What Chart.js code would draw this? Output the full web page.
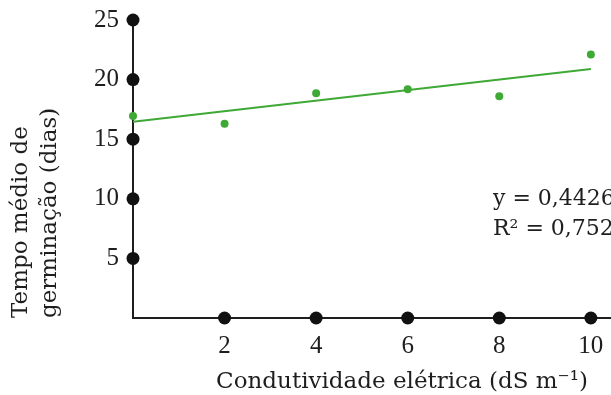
<!DOCTYPE html>
<html>
<head>
<meta charset="utf-8">
<script src="https://cdn.jsdelivr.net/npm/chart.js@4"></script>
<style>
  html, body { margin: 0; padding: 0; background: #ffffff; overflow: hidden; }
  canvas { display: block; }
</style>
</head>
<body>
<canvas id="chart" width="611" height="395"></canvas>
<script>
// Electrical conductivity of the solution (dS m-1) and mean germination time (days)
const conductivity = [0, 2, 4, 6, 8, 10];
const germinationDays = [16.95, 16.3, 18.85, 19.2, 18.6, 22.1];

// Axis ticks (each one marked by a dot on the axis line)
const xTickValues = [2, 4, 6, 8, 10];
const yTickValues = [5, 10, 15, 20, 25];

// Linear fit y = a·x + b over the measured range
const slope = 0.4426;
const intercept = 16.46;
const rSquared = '0,7523';
const fitRange = [0, 10];

const xTitle = 'Condutividade elétrica (dS m\u207B\u00B9)';
const yTitle = ['Tempo médio de', 'germinação (dias)'];
const equationLines = ['y = 0,4426x + 16,46', 'R\u00B2 = ' + rSquared];

const GREEN = '#3fa935';
const INK = '#1e1e1e';
const SERIF = '"DejaVu Serif", "Liberation Serif", serif';
const DIGITS = '"Liberation Serif", "DejaVu Serif", serif';

const measured = conductivity.map((x, i) => ({ x, y: germinationDays[i] }));
const fitLine = fitRange.map(x => ({ x, y: intercept + slope * x }));
const axisDots = [
  ...yTickValues.map(v => ({ x: 0, y: v })),
  ...xTickValues.map(v => ({ x: v, y: 0 }))
];

// Axis title and regression equation written straight on the canvas
const extraText = {
  id: 'extraText',
  afterDraw(chart) {
    const { ctx } = chart;
    ctx.save();
    ctx.fillStyle = INK;
    ctx.font = '23px ' + SERIF;
    ctx.textBaseline = 'middle';
    ctx.textAlign = 'center';
    ctx.fillText(xTitle, 402, 382);
    ctx.textAlign = 'left';
    ctx.font = '22px ' + SERIF;
    ctx.fillText(equationLines[0], 493, 199);
    ctx.fillText(equationLines[1], 493, 229);
    ctx.restore();
  }
};

new Chart(document.getElementById('chart'), {
  type: 'scatter',
  data: {
    datasets: [
      {
        label: 'Tempo médio',
        data: measured,
        backgroundColor: GREEN,
        borderColor: GREEN,
        pointRadius: 4,
        pointHoverRadius: 4,
        borderWidth: 0,
        clip: false
      },
      {
        label: 'Ajuste linear',
        type: 'line',
        data: fitLine,
        borderColor: GREEN,
        borderWidth: 2,
        pointRadius: 0,
        fill: false,
        clip: false
      },
      {
        label: 'Marcas dos eixos',
        data: axisDots,
        backgroundColor: '#111111',
        borderColor: '#111111',
        pointRadius: 6.5,
        pointHoverRadius: 6.5,
        borderWidth: 0,
        clip: false
      }
    ]
  },
  options: {
    responsive: false,
    animation: false,
    devicePixelRatio: 1,
    layout: { autoPadding: false, padding: { left: 0, top: 20, right: 0, bottom: 0 } },
    plugins: {
      legend: { display: false },
      tooltip: { enabled: false },
      title: { display: false }
    },
    scales: {
      x: {
        type: 'linear',
        min: 0,
        max: 10.44,
        afterBuildTicks(scale) { scale.ticks = xTickValues.map(v => ({ value: v })); },
        afterFit(scale) {
          scale.height = 77;
          scale.paddingLeft = 0;
          scale.paddingRight = 0;
        },
        grid: { display: false, drawTicks: false },
        border: { display: true, color: INK, width: 2 },
        ticks: {
          color: INK,
          padding: 13,
          maxRotation: 0,
          autoSkip: false,
          font: { family: DIGITS, size: 25 }
        }
      },
      y: {
        type: 'linear',
        min: 0,
        max: 25,
        afterBuildTicks(scale) { scale.ticks = yTickValues.map(v => ({ value: v })); },
        afterFit(scale) {
          scale.width = 133;
          scale.paddingTop = 0;
          scale.paddingBottom = 0;
        },
        grid: { display: false, drawTicks: false },
        border: { display: true, color: INK, width: 2 },
        ticks: {
          color: INK,
          padding: 14,
          autoSkip: false,
          font: { family: DIGITS, size: 25 }
        },
        title: {
          display: true,
          text: yTitle,
          align: 'start',
          color: INK,
          padding: { top: 7, bottom: 0 },
          font: { family: SERIF, size: 23, lineHeight: 1.25 }
        }
      }
    }
  },
  plugins: [extraText]
});
</script>
</body>
</html>
